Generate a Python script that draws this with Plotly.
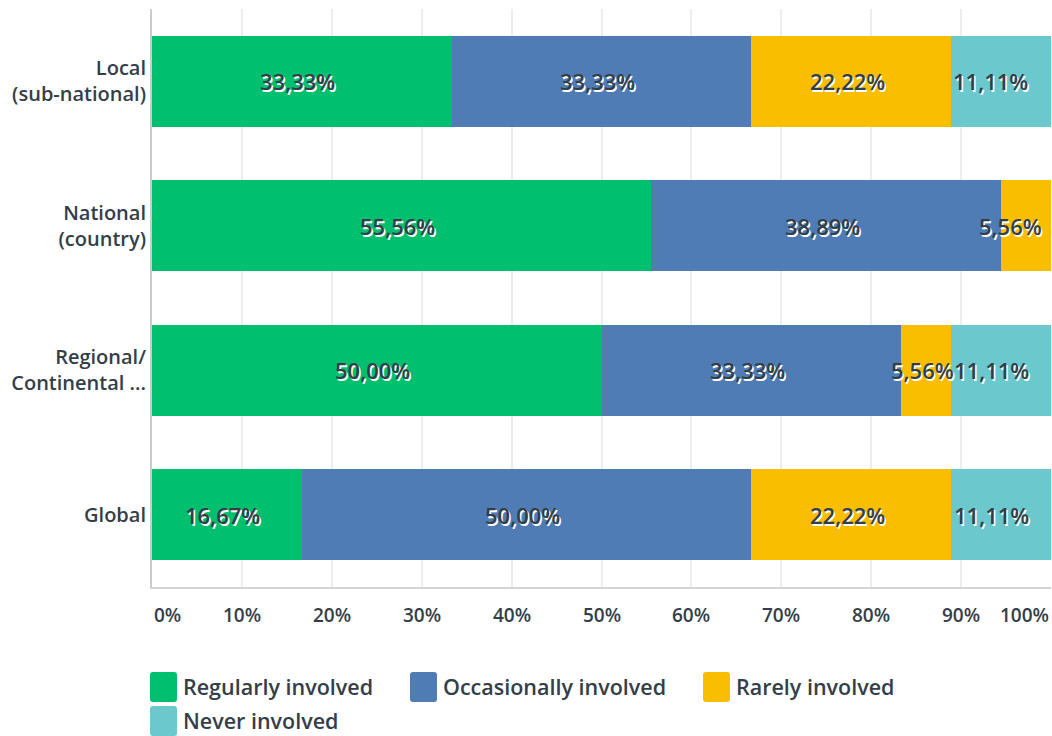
import plotly.graph_objects as go

categories = ["Local<br>(sub-national)", "National<br>(country)", "Regional/<br>Continental ...", "Global"]
series_names = ["Regularly involved", "Occasionally involved", "Rarely involved", "Never involved"]
regularly = [33.33, 55.56, 50.00, 16.67]
occasionally = [33.33, 38.89, 33.33, 50.00]
rarely = [22.22, 5.56, 5.56, 22.22]
never = [11.11, 0.0, 11.11, 11.11]
colors = ["#00bf6f", "#507cb6", "#f9be00", "#6bc8cd"]
tick_values = [0, 10, 20, 30, 40, 50, 60, 70, 80, 90, 100]
tick_labels = ["0%", "10%", "20%", "30%", "40%", "50%", "60%", "70%", "80%", "90%", "100%"]

series = [regularly, occasionally, rarely, never]

FONT = "Open Sans"
TXT = "#333e48"

# body margin removed in the page, figure origin at page (0, 0)
OFF = 0
W, H = 1052, 736
ML, MR, MT, MB = 152, 1, 9, 149
PW = W - ML - MR
PH = H - MT - MB


def px_x(page_x):
    return (page_x - OFF - ML) / PW


def px_y(page_y):
    return (H - MB - (page_y - OFF)) / PH


fig = go.Figure()
for name, vals, col in zip(series_names, series, colors):
    fig.add_trace(go.Bar(
        y=categories, x=vals, name=name, orientation="h",
        marker=dict(color=col, line=dict(width=0)),
        showlegend=False, hoverinfo="skip",
    ))

annotations = []
# bar value labels
for ci, cat in enumerate(categories):
    start = 0.0
    for si, vals in enumerate(series):
        v = vals[ci]
        if v > 0:
            mid = start + v / 2
            label = f"{v:.2f}".replace(".", ",") + "%"
            ann = dict(x=mid, y=cat, xref="x", yref="y", text=label, showarrow=False,
                       xanchor="center", xshift=-4,
                       font=dict(family=FONT, size=22, color=TXT, weight=600,
                                 shadow="1.5px 1.5px 0px #ffffff"))
            if start + v >= 99.9:
                if v < 8:
                    ann.update(x=100, xanchor="right", xshift=-7)
                else:
                    ann.update(xshift=-10)
            annotations.append(ann)
        start += v

# x tick labels
for tv, tl in zip(tick_values, tick_labels):
    anchor = "center"
    if tv == tick_values[0]:
        anchor = "left"
    elif tv == tick_values[-1]:
        anchor = "right"
    annotations.append(dict(x=tv, y=0, xref="x", yref="paper", text=tl, showarrow=False,
                            xanchor=anchor, yanchor="middle", yshift=-28,
                            font=dict(family=FONT, size=19, color=TXT, weight=600)))

# manual legend (page pixel positions)
legend_pos = [(150, 672), (410, 672), (703, 672), (150, 706)]
shapes = []
for (lx, ly), name, col in zip(legend_pos, series_names, colors):
    x0, x1 = px_x(lx), px_x(lx + 27)
    y0, y1 = px_y(ly + 30), px_y(ly)
    rx = 3 / PW
    ry = 3 / PH
    path = (f"M {x0+rx},{y1} L {x1-rx},{y1} Q {x1},{y1} {x1},{y1-ry} "
            f"L {x1},{y0+ry} Q {x1},{y0} {x1-rx},{y0} L {x0+rx},{y0} "
            f"Q {x0},{y0} {x0},{y0+ry} L {x0},{y1-ry} Q {x0},{y1} {x0+rx},{y1} Z")
    shapes.append(dict(type="path", path=path, xref="paper", yref="paper",
                       fillcolor=col, line=dict(width=0), layer="above"))
    annotations.append(dict(x=px_x(lx + 31), y=px_y(ly + 14), xref="paper", yref="paper",
                            text=name, showarrow=False, xanchor="left", yanchor="middle",
                            font=dict(family=FONT, size=21.5, color=TXT, weight=600)))

fig.update_layout(
    width=W, height=H,
    margin=dict(l=ML, r=MR, t=MT, b=MB),
    barmode="stack", bargap=0.37,
    plot_bgcolor="white", paper_bgcolor="white",
    xaxis=dict(range=[0, 100], tickvals=tick_values, showticklabels=False,
               showgrid=True, gridcolor="#ededed", gridwidth=2, zeroline=False,
               showline=True, linecolor="#d4d4d4", linewidth=2, fixedrange=True),
    yaxis=dict(autorange="reversed", categoryorder="array", categoryarray=categories,
               showgrid=False, showline=True, linecolor="#cccccc", linewidth=2,
               ticks="", ticklabelstandoff=0, fixedrange=True,
               tickfont=dict(family=FONT, size=20, color=TXT, weight=600)),
    annotations=annotations,
    shapes=shapes,
)

fig.write_html(
    "out.html",
    config={"displayModeBar": False},
    post_script="document.body.style.margin='0';document.body.style.overflow='hidden';",
)
